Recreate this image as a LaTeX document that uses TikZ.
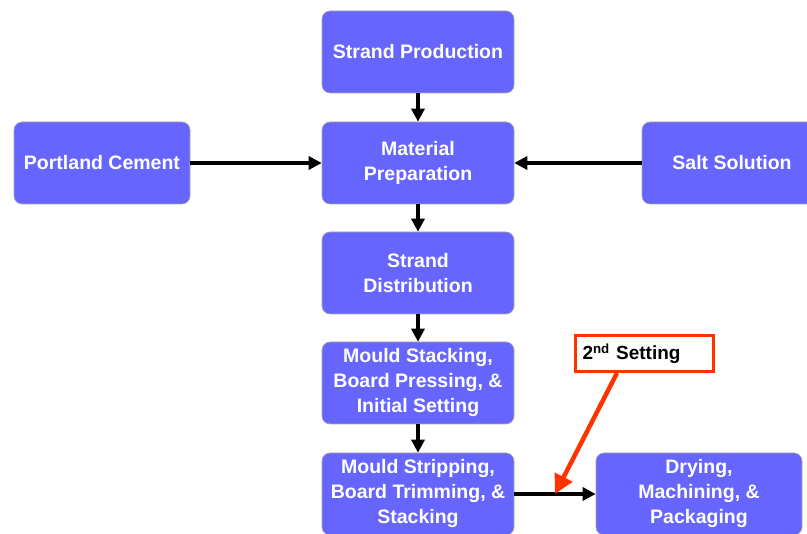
\documentclass[tikz,border=0pt]{standalone}
\usepackage{fontspec}
\setmainfont{Liberation Sans}
\usetikzlibrary{arrows.meta}

\tikzset{
  stepbox/.style={draw=gray!70, line width=0.6pt, fill=blockblue, rounded corners=8pt,
    minimum width=192pt, minimum height=82pt, align=center, text=white,
    font=\fontsize{19.5}{25}\selectfont\bfseries, inner sep=1pt},
  flow/.style={-{Triangle[length=13pt,width=13pt]}, line width=3.6pt},
}
\definecolor{blockblue}{HTML}{6666FF}
\definecolor{notered}{HTML}{FF3300}

\begin{document}
\begin{tikzpicture}[x=1pt,y=-1pt]
\useasboundingbox (0,0) rectangle (807,534);
\clip (0,0) rectangle (807,534);
\node[stepbox] (prod) at (418,52) {Strand Production};
\node[stepbox] (prep) at (418,163) {Material\\Preparation};
\node[stepbox, minimum width=176pt] (cement) at (102,163) {Portland Cement};
\node[stepbox, minimum width=180pt] (salt) at (732,163) {Salt Solution};
\node[stepbox] (dist) at (418,273) {Strand\\Distribution};
\node[stepbox] (stack) at (418,383) {Mould Stacking,\\Board Pressing, \&\\Initial Setting};
\node[stepbox] (strip) at (418,494) {Mould Stripping,\\Board Trimming, \&\\Stacking};
\node[stepbox, minimum width=206pt] (dry) at (699,494) {Drying,\\Machining, \&\\Packaging};
\node[draw=notered, line width=2.2pt, fill=white, minimum height=36pt, text width=124pt,
  inner xsep=7pt, align=left, font=\fontsize{19}{22}\selectfont\bfseries] (second)
  at (644.5,353.5) {2\textsuperscript{nd} Setting};
\draw[flow] (prod) -- (prep);
\draw[flow] (cement) -- (prep);
\draw[flow] (salt) -- (prep);
\draw[flow] (prep) -- (dist);
\draw[flow] (dist) -- (stack);
\draw[flow] (stack) -- (strip);
\draw[flow] (strip) -- (dry);
\coordinate (hit) at (555,494);
\draw[-{Triangle[length=19pt,width=19pt]}, notered, line width=4.5pt] (617,373) -- (hit);
\end{tikzpicture}
\end{document}
